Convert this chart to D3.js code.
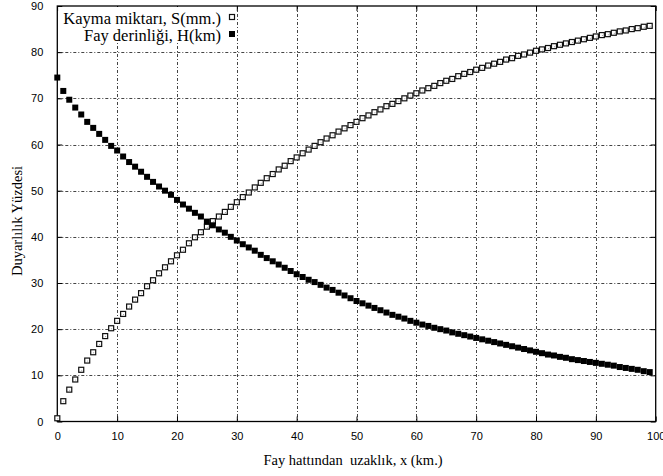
<!DOCTYPE html>
<html>
<head>
<meta charset="utf-8">
<script src="https://cdn.jsdelivr.net/npm/d3@7"></script>
<style>
  html, body { margin: 0; padding: 0; background: #fff; }
  svg { display: block; }
</style>
</head>
<body>
<div id="chart"></div>
<script>
// Distance from the fault line (km), one sample per km
const distanceKm = d3.range(0, 100);

// Slip amount S (mm) as a percentage
const slipPct = [
  0.7, 4.4, 6.9, 9.1, 11.2, 13.2, 15.0, 16.8, 18.5, 20.2,
  21.8, 23.3, 24.9, 26.4, 27.8, 29.3, 30.6, 32.1, 33.4, 34.7,
  36.0, 37.2, 38.6, 39.9, 41.0, 42.2, 43.4, 44.4, 45.4, 46.5,
  47.5, 48.6, 49.6, 50.7, 51.7, 52.7, 53.6, 54.6, 55.4, 56.4,
  57.2, 58.1, 58.9, 59.7, 60.5, 61.3, 62.0, 62.8, 63.5, 64.2,
  64.9, 65.7, 66.3, 67.0, 67.6, 68.3, 68.8, 69.4, 70.0, 70.6,
  71.1, 71.7, 72.2, 72.7, 73.3, 73.8, 74.2, 74.8, 75.3, 75.7,
  76.2, 76.6, 77.1, 77.5, 77.9, 78.4, 78.7, 79.2, 79.5, 79.9,
  80.3, 80.6, 80.9, 81.3, 81.6, 81.9, 82.2, 82.5, 82.8, 83.1,
  83.4, 83.7, 83.9, 84.2, 84.5, 84.7, 85.0, 85.2, 85.5, 85.7
];

// Fault depth H (km) as a percentage
const depthPct = [
  74.5, 71.6, 69.7, 68.0, 66.5, 64.9, 63.6, 62.3, 61.0, 59.7,
  58.7, 57.4, 56.2, 55.2, 54.1, 53.0, 51.9, 50.9, 50.0, 49.1,
  48.0, 47.0, 46.1, 45.2, 44.4, 43.3, 42.5, 41.6, 40.9, 40.0,
  39.2, 38.4, 37.7, 37.0, 36.1, 35.4, 34.7, 34.0, 33.3, 32.6,
  31.9, 31.3, 30.7, 30.2, 29.6, 29.0, 28.5, 27.9, 27.3, 26.7,
  26.1, 25.6, 25.1, 24.6, 24.1, 23.6, 23.1, 22.7, 22.3, 21.8,
  21.4, 21.0, 20.7, 20.3, 20.0, 19.7, 19.3, 19.0, 18.7, 18.4,
  18.1, 17.8, 17.5, 17.2, 16.9, 16.6, 16.3, 16.0, 15.7, 15.4,
  15.1, 14.8, 14.5, 14.3, 14.0, 13.8, 13.5, 13.3, 13.1, 12.9,
  12.7, 12.5, 12.3, 12.1, 11.8, 11.6, 11.4, 11.2, 10.9, 10.7
];

const xTicks = [0, 10, 20, 30, 40, 50, 60, 70, 80, 90, 100];
const yTicks = [0, 10, 20, 30, 40, 50, 60, 70, 80, 90];

const seriesNames = ["Kayma miktarı, S(mm.)", "Fay derinliği, H(km)"];
const xTitle = "Fay hattından  uzaklık, x (km.)";
const yTitle = "Duyarlılık Yüzdesi";

const W = 663, H = 476;
const plot = { left: 57.3, right: 655.7, top: 6, bottom: 421.5 };

const svg = d3.select("#chart").append("svg")
  .attr("width", W).attr("height", H);

const x = d3.scaleLinear().domain([0, 100]).range([plot.left, plot.right]);
const y = d3.scaleLinear().domain([0, 90]).range([plot.bottom, plot.top]);

const sans = "'Liberation Sans', Arial, Helvetica, sans-serif";
const serif = "'Liberation Serif', 'Times New Roman', serif";

// Grid (dash-dot)
const grid = svg.append("g").attr("class", "grid")
  .attr("stroke", "#444").attr("stroke-width", 1)
  .attr("stroke-dasharray", "3,2,1,2").attr("fill", "none");
grid.selectAll("line.v").data(xTicks.slice(1, -1)).join("line")
  .attr("x1", d => Math.round(x(d)) + 0.5).attr("x2", d => Math.round(x(d)) + 0.5)
  .attr("y1", plot.top).attr("y2", plot.bottom);
grid.selectAll("line.h").data(yTicks.slice(1, -1)).join("line")
  .attr("y1", d => Math.round(y(d)) + 0.5).attr("y2", d => Math.round(y(d)) + 0.5)
  .attr("x1", plot.left).attr("x2", plot.right);

// Axes with inward ticks, mirrored on top and right
const tickLen = 5;
const axisStyle = g => {
  g.select(".domain").remove();
  g.selectAll(".tick line").attr("stroke", "#000").attr("stroke-width", 1);
  g.selectAll(".tick text").attr("fill", "#000")
    .style("font-family", sans).style("font-size", "11px");
};
svg.append("g")
  .attr("transform", `translate(0,${plot.bottom})`)
  .call(d3.axisBottom(x).tickValues(xTicks).tickFormat(d3.format("d"))
    .tickSizeInner(-tickLen).tickSizeOuter(0).tickPadding(11))
  .call(axisStyle);
svg.append("g")
  .attr("transform", `translate(0,${plot.top})`)
  .call(d3.axisTop(x).tickValues(xTicks).tickFormat("")
    .tickSizeInner(-tickLen).tickSizeOuter(0))
  .call(axisStyle);
svg.append("g")
  .attr("transform", `translate(${plot.left},0)`)
  .call(d3.axisLeft(y).tickValues(yTicks).tickFormat(d3.format("d"))
    .tickSizeInner(-tickLen).tickSizeOuter(0).tickPadding(14))
  .call(axisStyle);
svg.append("g")
  .attr("transform", `translate(${plot.right},0)`)
  .call(d3.axisRight(y).tickValues(yTicks).tickFormat("")
    .tickSizeInner(-tickLen).tickSizeOuter(0))
  .call(axisStyle);

// Legend background (hides the grid behind the key)
svg.append("rect")
  .attr("x", plot.left + 1).attr("y", plot.top + 1)
  .attr("width", 235 - plot.left - 1).attr("height", 43 - plot.top - 1)
  .attr("fill", "#fff");

// Plot frame
svg.append("rect")
  .attr("x", plot.left).attr("y", plot.top)
  .attr("width", plot.right - plot.left).attr("height", plot.bottom - plot.top)
  .attr("fill", "none").attr("stroke", "#000").attr("stroke-width", 1.3);

const m = 6; // marker size

// Open squares: slip
const sData = distanceKm.map((d, i) => ({ x: d, v: slipPct[i] }));
const sG = svg.append("g");
sG.selectAll("rect").data(sData).join("rect")
  .attr("x", d => x(d.x) - m / 2 + 0.5).attr("y", d => y(d.v) - m / 2 + 0.5)
  .attr("width", m - 1).attr("height", m - 1)
  .attr("fill", "#fff").attr("stroke", "#111").attr("stroke-width", 1.2);
sG.selectAll("circle").data(sData).join("circle")
  .attr("cx", d => x(d.x) + 0.5).attr("cy", d => y(d.v) + 0.5).attr("r", 0.5)
  .attr("fill", "#888");

// Filled squares: depth
const hData = distanceKm.map((d, i) => ({ x: d, v: depthPct[i] }));
svg.append("g").selectAll("rect").data(hData).join("rect")
  .attr("x", d => x(d.x) - m / 2).attr("y", d => y(d.v) - m / 2)
  .attr("width", m).attr("height", m)
  .attr("fill", "#000");

// Legend
const legend = svg.append("g");
const legY = [24, 40.5];
legend.selectAll("text").data(seriesNames).join("text")
  .attr("x", 221).attr("y", (d, i) => legY[i])
  .attr("text-anchor", "end")
  .style("font-family", serif).style("font-size", "16.5px")
  .text(d => d);
legend.append("rect")
  .attr("x", 232 - m / 2 + 0.5).attr("y", 17 - m / 2 + 0.5)
  .attr("width", m - 1).attr("height", m - 1)
  .attr("fill", "#fff").attr("stroke", "#111").attr("stroke-width", 1.2);
legend.append("rect")
  .attr("x", 232 - m / 2).attr("y", 34 - m / 2)
  .attr("width", m).attr("height", m).attr("fill", "#000");

// Axis titles
svg.append("text")
  .attr("x", 353).attr("y", 465)
  .attr("text-anchor", "middle")
  .style("font-family", serif).style("font-size", "14.5px")
  .style("white-space", "pre").attr("xml:space", "preserve")
  .text(xTitle);
svg.append("text")
  .attr("transform", `translate(22,${221}) rotate(-90)`)
  .attr("text-anchor", "middle")
  .style("font-family", serif).style("font-size", "14.5px")
  .text(yTitle);
</script>
</body>
</html>
